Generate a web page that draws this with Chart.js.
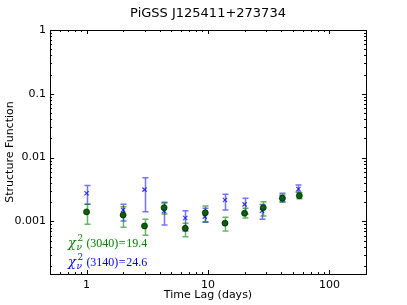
<!DOCTYPE html>
<html>
<head>
<meta charset="utf-8">
<script src="https://cdn.jsdelivr.net/npm/chart.js@4/dist/chart.umd.min.js"></script>
<style>
html,body{margin:0;padding:0;background:#fff;}
canvas{display:block;}
</style>
</head>
<body>
<canvas id="c" width="407" height="305"></canvas>
<script>
// ---- data ----
const titleText = "PiGSS J125411+273734";
const xLabel = "Time Lag (days)";
const yLabel = "Structure Function";
const xTicks = [1, 10, 100];
const yTicks = [0.001, 0.01, 0.1, 1];

const lag3040 = [1, 2, 3, 4.35, 6.5, 9.5, 13.8, 20, 28.5, 41, 56.5];
const sf3040 = [1.41e-3, 1.26e-3, 8.5e-4, 1.64e-3, 7.8e-4, 1.37e-3, 9.4e-4, 1.34e-3, 1.64e-3, 2.31e-3, 2.53e-3];
const sf3040Lo = [9.0e-4, 8.1e-4, 6.1e-4, 1.31e-3, 5.75e-4, 9.9e-4, 7.1e-4, 1.13e-3, 1.22e-3, 2.0e-3, 2.27e-3];
const sf3040Hi = [1.86e-3, 1.70e-3, 1.08e-3, 1.95e-3, 9.4e-4, 1.75e-3, 1.16e-3, 1.61e-3, 2.04e-3, 2.6e-3, 2.82e-3];

const lag3140 = [1, 2, 3, 4.35, 6.5, 9.4, 13.8, 20, 27.8, 40.5, 55.5];
const sf3140 = [2.76e-3, 1.51e-3, 3.15e-3, 1.46e-3, 1.13e-3, 1.19e-3, 2.17e-3, 1.85e-3, 1.47e-3, 2.39e-3, 3.23e-3];
const sf3140Lo = [1.86e-3, 1.02e-3, 1.42e-3, 8.8e-4, 7.1e-4, 9.7e-4, 1.51e-3, 1.31e-3, 1.08e-3, 2.06e-3, 2.9e-3];
const sf3140Hi = [3.64e-3, 1.86e-3, 4.85e-3, 2.0e-3, 1.47e-3, 1.61e-3, 2.66e-3, 2.31e-3, 1.85e-3, 2.76e-3, 3.73e-3];

const chi3040 = "19.4";
const chi3140 = "24.6";

const GREEN = "#008000";
const BLUE = "#0000ff";

function pts(xs, ys){ return xs.map((x,i)=>({x:x, y:ys[i]})); }

const errPlugin = {
  id: 'errbars',
  beforeDatasetsDraw(chart){
    const ctx = chart.ctx, xs = chart.scales.x, ys = chart.scales.y;
    const sets = [
      {lag: lag3140, lo: sf3140Lo, hi: sf3140Hi, col: 'rgba(40,40,255,0.65)'},
      {lag: lag3040, lo: sf3040Lo, hi: sf3040Hi, col: 'rgba(0,128,0,0.6)'}
    ];
    ctx.save();
    ctx.lineWidth = 1.5;
    sets.forEach(s=>{
      ctx.strokeStyle = s.col;
      s.lag.forEach((l,i)=>{
        const px = Math.round(xs.getPixelForValue(l)) + 0.5;
        const y1 = ys.getPixelForValue(s.lo[i]);
        const y2 = ys.getPixelForValue(s.hi[i]);
        ctx.beginPath();
        ctx.moveTo(px, y1); ctx.lineTo(px, y2);
        ctx.moveTo(px-3, y1); ctx.lineTo(px+3, y1);
        ctx.moveTo(px-3, y2); ctx.lineTo(px+3, y2);
        ctx.stroke();
      });
    });
    ctx.restore();
  }
};

const framePlugin = {
  id: 'frame',
  afterDraw(chart){
    const ctx = chart.ctx, a = chart.chartArea, xs = chart.scales.x, ys = chart.scales.y;
    ctx.save();
    ctx.strokeStyle = '#000';
    ctx.lineWidth = 1;
    ctx.strokeRect(Math.round(a.left)+0.5, Math.round(a.top)+0.5, Math.round(a.right-a.left), Math.round(a.bottom-a.top));
    // inward ticks
    ctx.beginPath();
    for (let n=-1;n<=2;n++){
      for (let k=1;k<=9;k++){
        const v = k*Math.pow(10,n);
        if (v < xs.min || v > xs.max) continue;
        const len = (k===1)?4:2;
        const px = Math.round(xs.getPixelForValue(v))+0.5;
        ctx.moveTo(px, a.bottom); ctx.lineTo(px, a.bottom-len);
        ctx.moveTo(px, a.top); ctx.lineTo(px, a.top+len);
      }
    }
    for (let n=-4;n<=0;n++){
      for (let k=1;k<=9;k++){
        const v = k*Math.pow(10,n);
        if (v < ys.min*0.999 || v > ys.max*1.001) continue;
        const len = (k===1)?4:2;
        const py = Math.round(ys.getPixelForValue(v))+0.5;
        ctx.moveTo(a.left, py); ctx.lineTo(a.left+len, py);
        ctx.moveTo(a.right, py); ctx.lineTo(a.right-len, py);
      }
    }
    ctx.stroke();

    // titles
    ctx.fillStyle = '#000';
    ctx.textAlign = 'center';
    ctx.textBaseline = 'middle';
    ctx.font = '13px "DejaVu Sans"';
    ctx.fillText(titleText, (a.left+a.right)/2, 14);
    ctx.font = '11px "DejaVu Sans"';
    ctx.fillText(xLabel, (a.left+a.right)/2, 295);
    ctx.save();
    ctx.translate(10, (a.top+a.bottom)/2);
    ctx.rotate(-Math.PI/2);
    ctx.fillText(yLabel, 0, 0);
    ctx.restore();

    // chi^2 annotations
    function chiText(x, base, label, val, col){
      ctx.fillStyle = col;
      ctx.textAlign = 'left';
      ctx.textBaseline = 'alphabetic';
      let cx = x;
      ctx.font = 'italic 13px "DejaVu Serif"';
      ctx.fillText('\u03c7', cx, base);
      cx += ctx.measureText('\u03c7').width + 0.5;
      ctx.font = 'italic 9px "DejaVu Serif"';
      ctx.fillText('\u03bd', cx, base+3);
      ctx.font = '9px "DejaVu Serif"';
      ctx.fillText('2', cx+1, base-6);
      cx += 10;
      ctx.font = '12px "Liberation Serif"';
      const rest = '(' + label + ')';
      ctx.fillText(rest, cx, base);
      cx += ctx.measureText(rest).width + 0.5;
      ctx.fillText('=', cx, base);
      cx += ctx.measureText('=').width + 0.5;
      ctx.fillText(val, cx, base);
    }
    chiText(68, 247, '3040', chi3040, GREEN);
    chiText(68, 266, '3140', chi3140, BLUE);
    ctx.restore();
  }
};

new Chart(document.getElementById('c'), {
  type: 'scatter',
  data: {
    datasets: [
      {
        label: '3040',
        data: pts(lag3040, sf3040),
        pointStyle: 'circle',
        pointRadius: 3,
        backgroundColor: '#006400',
        borderColor: '#001a00',
        borderWidth: 0.7,
        showLine: false
      },
      {
        label: '3140',
        data: pts(lag3140, sf3140),
        pointStyle: 'crossRot',
        pointRadius: 3,
        backgroundColor: 'rgba(0,0,255,0.75)',
        borderColor: 'rgba(0,0,255,0.75)',
        borderWidth: 1.2,
        showLine: false
      }
    ]
  },
  options: {
    responsive: false,
    animation: false,
    devicePixelRatio: 1,
    layout: { padding: { top: 30, right: 41, left: 0, bottom: 0 } },
    plugins: { legend: { display: false }, tooltip: { enabled: false }, title: { display: false } },
    scales: {
      x: {
        type: 'logarithmic',
        min: 0.5, max: 200,
        grid: { display: false, drawTicks: false },
        border: { display: false },
        afterBuildTicks: s => { s.ticks = xTicks.map(v=>({value:v})); },
        afterFit: s => { s.height = 31; },
        ticks: {
          autoSkip: false, maxRotation: 0, padding: 5,
          color: '#000', font: { family: 'DejaVu Sans', size: 11 },
          callback: v => String(v)
        }
      },
      y: {
        type: 'logarithmic',
        min: 1.5e-4, max: 1,
        grid: { display: false, drawTicks: false },
        border: { display: false },
        afterBuildTicks: s => { s.ticks = yTicks.map(v=>({value:v})); },
        afterFit: s => { s.width = 50; },
        ticks: {
          autoSkip: false, padding: 4,
          color: '#000', font: { family: 'DejaVu Sans', size: 11 },
          callback: v => String(v)
        }
      }
    }
  },
  plugins: [errPlugin, framePlugin]
});
</script>
</body>
</html>
